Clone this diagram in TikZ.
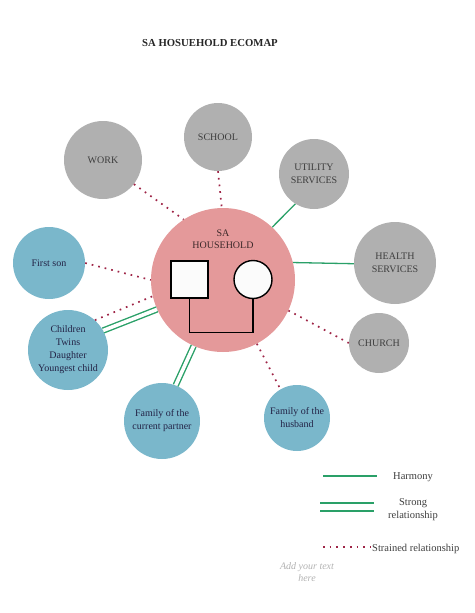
\documentclass[tikz,border=0pt]{standalone}
\usepackage{fontspec}
\setmainfont{Liberation Serif}
\usetikzlibrary{positioning}
\definecolor{hhpink}{RGB}{228,153,154}
\definecolor{sysgray}{RGB}{176,176,176}
\definecolor{kinblue}{RGB}{122,183,203}
\definecolor{harmgreen}{RGB}{42,160,104}
\definecolor{strainred}{RGB}{158,36,70}
\definecolor{labelgray}{RGB}{62,62,62}
\tikzset{
  system/.style={circle,fill=sysgray,text=labelgray,align=center,inner sep=0pt,
    font=\fontsize{10}{13}\selectfont},
  kin/.style={circle,fill=kinblue,text=labelgray!80!blue!70!black,align=center,inner sep=0pt,
    font=\fontsize{10}{13}\selectfont},
  harmony/.style={harmgreen,line width=1.3pt},
  strong/.style={harmgreen,line width=1.4pt,double=white,double distance=3.6pt},
  strained/.style={strainred,line width=1.7pt,dash pattern=on 1.7pt off 5pt},
  legendtext/.style={font=\fontsize{10.5}{13}\selectfont,text=labelgray,align=center}
}
\begin{document}
\begin{tikzpicture}[x=1pt,y=-1pt]
  \useasboundingbox (0,0) rectangle (474,613);
  % title
  \node[font=\bfseries\fontsize{10.7}{12}\selectfont,text=black!85] (title) at (210,43) {SA HOSUEHOLD ECOMAP};
  % household
  \node[circle,fill=hhpink,minimum size=144pt,inner sep=0pt] (house) at (223,280) {};
  \node[align=center,text=black!55!hhpink!60!black,font=\fontsize{10}{12}\selectfont] (hhlabel)
    at ([yshift=41pt]house.center) {SA\\HOUSEHOLD};
  \node[draw,line width=1.4pt,fill=white!97!gray,minimum size=37pt,inner sep=0pt] (male) at (189.5,279.5) {};
  \node[draw,circle,line width=1.4pt,fill=white!97!gray,minimum size=38pt,inner sep=0pt] (female) at (253,279.5) {};
  \draw[line width=1.4pt] (male.south) -- ++(0,34) -| (female.south);
  % systems
  \node[system,minimum size=78pt] (work) at (103,160) {WORK};
  \node[system,minimum size=68pt] (school) at (218,137) {SCHOOL};
  \node[system,minimum size=70pt] (utility) at (314,174) {UTILITY\\SERVICES};
  \node[system,minimum size=82pt] (health) at (395,263) {HEALTH\\SERVICES};
  \node[system,minimum size=60pt] (church) at (379,343) {CHURCH};
  % family
  \node[kin,minimum size=72pt] (son) at (49,263) {First son};
  \node[kin,minimum size=80pt] (children) at (68,350) {Children\\Twins\\Daughter\\Youngest child};
  \node[kin,minimum size=76pt] (partner) at (162,421) {Family of the\\current partner};
  \node[kin,minimum size=66pt] (husband) at (297,418) {Family of the\\husband};
  % relationships
  \draw[strained] (work.-38) -- (house.123);
  \draw[strained] (school.270) -- (house.91);
  \draw[harmony] (utility.238) -- (house.47);
  \draw[harmony] (house.14) -- (health.181);
  \draw[strained] (house.335) -- (church.180);
  \draw[strained] (house.298) -- (husband.120);
  \draw[strong] (partner.69) -- (house.246);
  \draw[strained] (son.0) -- (house.180);
  \draw[strained] (children.48) -- (house.193);
  \draw[strong] (children.29) -- (house.204);
  % legend
  \coordinate (harmA) at (323,476);
  \coordinate (harmB) at (377,476);
  \coordinate (strongA) at (320,507);
  \coordinate (strongB) at (374,507);
  \coordinate (strainA) at (323,547);
  \coordinate (strainB) at (371,547);
  \draw[harmony] (harmA) -- (harmB);
  \draw[strong,double distance=6.4pt] (strongA) -- (strongB);
  \draw[strained] (strainA) -- (strainB);
  \node[legendtext] (harmtext) at (413,477) {Harmony};
  \node[legendtext] (strongtext) at (413,509.5) {Strong\\relationship};
  \node[legendtext,anchor=west,inner sep=0pt] (straintext) at (372,549) {Strained relationship};
  \node[align=center,text=black!30,font=\itshape\fontsize{10}{12}\selectfont] (addtext) at (307,572) {Add your text\\here};
\end{tikzpicture}
\end{document}
